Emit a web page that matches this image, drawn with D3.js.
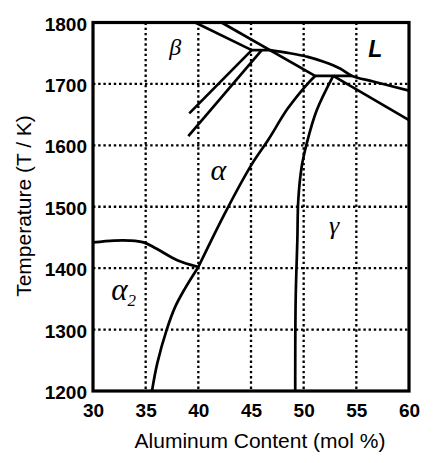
<!DOCTYPE html>
<html>
<head>
<meta charset="utf-8">
<script src="https://cdn.jsdelivr.net/npm/d3@7"></script>
<style>
  html, body { margin: 0; padding: 0; background: #fff; }
  svg { display: block; }
</style>
</head>
<body>
<svg id="chart" width="446" height="463"></svg>
<script>
// ---- data ----
const xTicks = [30, 35, 40, 45, 50, 55, 60];
const yTicks = [1200, 1300, 1400, 1500, 1600, 1700, 1800];
const xGrid = [35, 40, 45, 50, 55];
const yGrid = [1300, 1400, 1500, 1600, 1700];

const betaLiquidusLine = [[39.7, 1800], [45.07, 1755]];
const alphaSolidusLine = [[42.2, 1800], [51.08, 1713]];
const peritecticBeta = [[45.07, 1755], [46.8, 1755]];
const peritecticAlpha = [[51.08, 1713], [54.6, 1713]];
const liquidus = [[46.8, 1755], [48.7, 1750], [50.4, 1744], [51.9, 1736], [53.45, 1725], [54.6, 1713], [56.6, 1704], [60, 1689]];
const betaTransusUpper = [[45.07, 1755], [39.14, 1652]];
const betaTransusLower = [[46.02, 1755], [39.05, 1615]];
const alphaGamma = [[51.08, 1713], [50.2, 1697], [48.45, 1659], [46.64, 1609], [45.07, 1569], [42.69, 1495], [40.0, 1402]];
const alpha2Boundary = [[40.0, 1402], [38.7, 1366], [37.8, 1337], [37.0, 1300], [36.1, 1245], [35.6, 1200]];
const eutectoid = [[30, 1442], [32, 1445], [33.5, 1445], [34.8, 1442], [36, 1432], [38, 1413], [40.0, 1402]];
const gammaBoundary = [[52.81, 1713], [51.24, 1657], [50.29, 1603], [49.81, 1565], [49.49, 1511], [49.4, 1446], [49.24, 1348], [49.2, 1200]];
const gammaSolidus = [[52.81, 1713], [60, 1641]];

const phaseLabels = [
  { text: "β", x: 37.8, y: 1747, kind: "greek", size: 24 },
  { text: "L", x: 56.8, y: 1744, kind: "latin", size: 23 },
  { text: "α", x: 41.9, y: 1543, kind: "greek", size: 30 },
  { text: "γ", x: 52.9, y: 1456, kind: "greek", size: 26 }
];
const alpha2Label = { text: "α", sub: "2", x: 32.9, y: 1348 };

// ---- chart ----
const svg = d3.select("#chart");
const x = d3.scaleLinear().domain([30, 60]).range([93, 409]);
const y = d3.scaleLinear().domain([1200, 1800]).range([391, 22.5]);

// grid
const grid = svg.append("g")
  .attr("stroke", "#000").attr("stroke-width", 2.3).attr("stroke-dasharray", "2.4,2.8");
grid.selectAll("line.v").data(xGrid).join("line").attr("class", "v")
  .attr("x1", d => x(d)).attr("x2", d => x(d))
  .attr("y1", y(1800)).attr("y2", y(1200));
grid.selectAll("line.h").data(yGrid).join("line").attr("class", "h")
  .attr("x1", x(30)).attr("x2", x(60))
  .attr("y1", d => y(d)).attr("y2", d => y(d));

// curves
const straight = d3.line().x(d => x(d[0])).y(d => y(d[1]));
const smooth = d3.line().x(d => x(d[0])).y(d => y(d[1])).curve(d3.curveCatmullRom.alpha(0.5));
const curves = svg.append("g").attr("fill", "none").attr("stroke", "#000")
  .attr("stroke-width", 2.7).attr("stroke-linejoin", "round");
[betaLiquidusLine, alphaSolidusLine, peritecticBeta, peritecticAlpha,
 betaTransusUpper, betaTransusLower, gammaSolidus].forEach(p =>
  curves.append("path").attr("d", straight(p)));
[liquidus, alphaGamma, alpha2Boundary, eutectoid, gammaBoundary].forEach(p =>
  curves.append("path").attr("d", smooth(p)));

// frame
svg.append("rect")
  .attr("x", x(30)).attr("y", y(1800))
  .attr("width", x(60) - x(30)).attr("height", y(1200) - y(1800))
  .attr("fill", "none").attr("stroke", "#000").attr("stroke-width", 3.2);

// axes (labels only)
const xAxis = d3.axisBottom(x).tickValues(xTicks).tickFormat(d3.format("d")).tickSize(0).tickPadding(13);
const xg = svg.append("g").attr("transform", `translate(0,${y(1200)})`).call(xAxis);
xg.select(".domain").remove();
xg.selectAll("text").attr("font-family", "'Liberation Sans', Arial, sans-serif")
  .attr("font-weight", "bold").attr("font-size", 19).attr("fill", "#000");

const yAxis = d3.axisLeft(y).tickValues(yTicks).tickFormat(d3.format("d")).tickSize(0).tickPadding(6);
const yg = svg.append("g").attr("transform", `translate(${x(30)},0)`).call(yAxis);
yg.select(".domain").remove();
yg.selectAll("text").attr("font-family", "'Liberation Sans', Arial, sans-serif")
  .attr("font-weight", "bold").attr("font-size", 19).attr("fill", "#000")
  .attr("dy", "0.4em");

// axis titles
svg.append("text")
  .attr("x", 260).attr("y", 448)
  .attr("text-anchor", "middle")
  .attr("font-family", "'Liberation Sans', Arial, sans-serif")
  .attr("font-size", 21).attr("fill", "#000")
  .text("Aluminum Content (mol %)");

svg.append("text")
  .attr("transform", "translate(31,206) rotate(-90)")
  .attr("text-anchor", "middle")
  .attr("font-family", "'Liberation Sans', Arial, sans-serif")
  .attr("font-size", 21).attr("fill", "#000")
  .text("Temperature (T / K)");

// phase labels
svg.append("g").selectAll("text").data(phaseLabels).join("text")
  .attr("x", d => x(d.x)).attr("y", d => y(d.y))
  .attr("text-anchor", "middle")
  .attr("font-family", d => d.kind === "greek" ? "'Liberation Serif', 'Times New Roman', serif" : "'Liberation Sans', Arial, sans-serif")
  .attr("font-style", "italic")
  .attr("font-weight", d => d.kind === "greek" ? "normal" : "bold")
  .attr("font-size", d => d.size)
  .attr("fill", "#000")
  .text(d => d.text);

const a2 = svg.append("text")
  .attr("x", x(alpha2Label.x)).attr("y", y(alpha2Label.y))
  .attr("text-anchor", "middle")
  .attr("font-family", "'Liberation Serif', 'Times New Roman', serif")
  .attr("font-style", "italic").attr("fill", "#000");
a2.append("tspan").attr("font-size", 31).text(alpha2Label.text);
a2.append("tspan").attr("font-size", 17).attr("dy", 6).text(alpha2Label.sub);
</script>
</body>
</html>
